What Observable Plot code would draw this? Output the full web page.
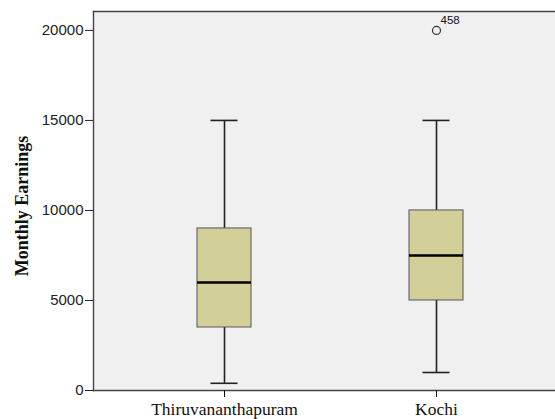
<!DOCTYPE html>
<html>
<head>
<meta charset="utf-8">
<script src="https://cdn.jsdelivr.net/npm/d3@7"></script>
<script src="https://cdn.jsdelivr.net/npm/@observablehq/plot@0.6"></script>
<style>
  html, body { margin: 0; padding: 0; background: #ffffff; overflow: hidden; }
  #chart svg { display: block; }
</style>
</head>
<body>
<div id="chart"></div>
<script>
const cities = ["Thiruvananthapuram", "Kochi"];
const whiskerLow = [400, 1000];
const q1 = [3500, 5000];
const median = [6000, 7500];
const q3 = [9000, 10000];
const whiskerHigh = [15000, 15000];
const outlierCity = ["Kochi"];
const outlierValue = [20000];
const outlierLabel = ["458"];
const yTicks = [0, 5000, 10000, 15000, 20000];

const boxes = cities.map((c, i) => ({
  city: c, low: whiskerLow[i], q1: q1[i], median: median[i], q3: q3[i], high: whiskerHigh[i]
}));
const outliers = outlierCity.map((c, i) => ({ city: c, value: outlierValue[i], label: outlierLabel[i] }));

const chart = Plot.plot({
  width: 555,
  height: 419,
  marginLeft: 93,
  marginRight: 0,
  marginTop: 11,
  marginBottom: 29,
  style: { background: "#ffffff", overflow: "visible" },
  x: { domain: cities, range: [196, 463], paddingInner: 0.746, paddingOuter: 0 },
  y: { domain: [0, 21050] },
  marks: [
    Plot.frame({ fill: "#F0F0F0", stroke: "none" }),
    Plot.frame({ anchor: "left", stroke: "#444", strokeWidth: 1.4 }),
    Plot.frame({ anchor: "top", stroke: "#444", strokeWidth: 1.4 }),
    Plot.frame({ anchor: "bottom", stroke: "#444", strokeWidth: 1.4 }),
    Plot.ruleX(boxes, { x: "city", y1: "q3", y2: "high", stroke: "#222", strokeWidth: 1.6 }),
    Plot.ruleX(boxes, { x: "city", y1: "low", y2: "q1", stroke: "#222", strokeWidth: 1.6 }),
    Plot.tickY(boxes, { x: "city", y: "high", stroke: "#222", strokeWidth: 1.6, inset: 13.5 }),
    Plot.tickY(boxes, { x: "city", y: "low", stroke: "#222", strokeWidth: 1.6, inset: 13.5 }),
    Plot.barY(boxes, { x: "city", y1: "q1", y2: "q3", fill: "#D3CF98", stroke: "#555", strokeWidth: 1 }),
    Plot.tickY(boxes, { x: "city", y: "median", stroke: "#000", strokeWidth: 2.6 }),
    Plot.dot(outliers, { x: "city", y: "value", r: 4, stroke: "#333", strokeWidth: 1.2, fill: "none" }),
    Plot.text(outliers, { x: "city", y: "value", text: "label", dx: 4, dy: -10, textAnchor: "start", fontSize: 11.5, fontFamily: "Liberation Sans, Arial, sans-serif", fill: "#111" }),
    Plot.axisY({ ticks: yTicks, tickFormat: d => String(d), tickSize: 8, tickPadding: 2, label: null, fontSize: 15, fontFamily: "Liberation Sans, Arial, sans-serif", color: "#222" }),
    Plot.axisX({ tickSize: 7, tickPadding: 5, label: null, fontSize: 17.5, fontFamily: "Liberation Serif, Times New Roman, serif", color: "#111" }),
    Plot.text(["Monthly Earnings"], { frameAnchor: "left", rotate: -90, dx: -71, dy: 5, fontSize: 18, fontWeight: "bold", fontFamily: "Liberation Serif, Times New Roman, serif", fill: "#111", textAnchor: "middle" })
  ]
});
document.getElementById("chart").appendChild(chart);
</script>
</body>
</html>
